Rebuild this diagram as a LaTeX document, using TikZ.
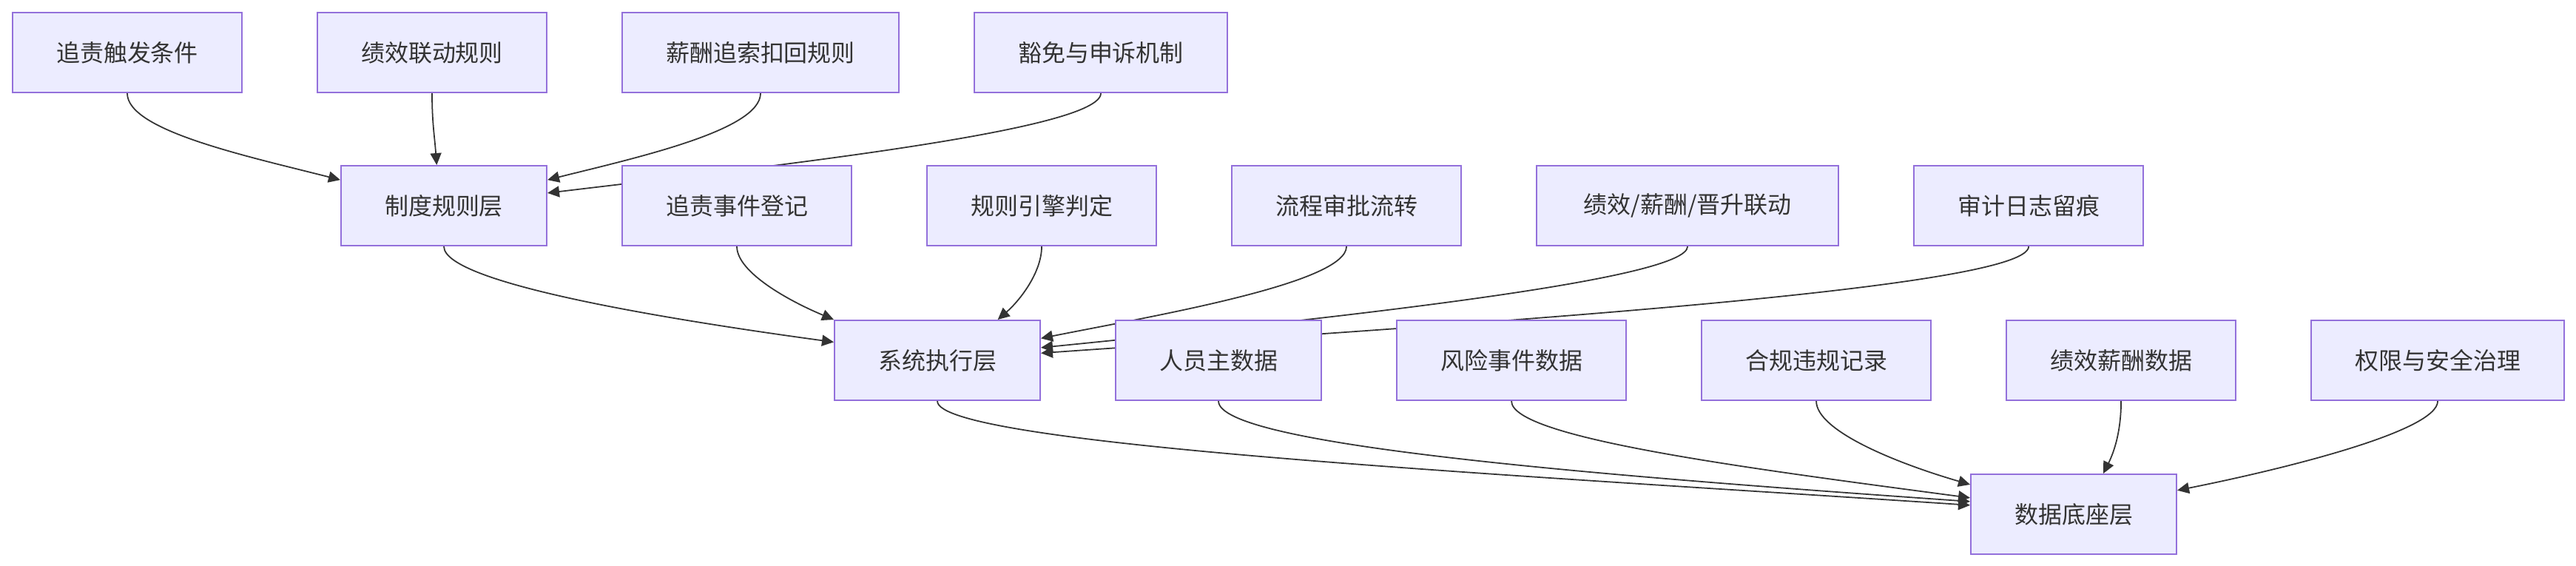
\documentclass[tikz,border=0pt]{standalone}
\usepackage{fontspec}
\setmainfont{Noto Sans CJK SC}
\usetikzlibrary{arrows.meta, positioning, backgrounds}
\definecolor{mmfill}{HTML}{ECECFF}
\definecolor{mmborder}{HTML}{9370DB}
\definecolor{mmtext}{HTML}{333333}
\definecolor{mmline}{HTML}{333333}
\tikzset{
  box/.style={rectangle, draw=mmborder, fill=mmfill, line width=0.6pt, inner xsep=0.59cm, inner ysep=0pt,
    minimum height=1.08cm, font=\fontsize{9.1pt}{11pt}\selectfont, text=mmtext},
  arr/.style={-{Triangle[length=0.16cm, width=0.15cm]}, line width=0.5pt, mmline},
}

\begin{document}
\begin{tikzpicture}
    \useasboundingbox (0,0) rectangle (34.82,-7.64);
    % Rules inputs
    \node[box, anchor=north west] (trigger) at (0.16,-0.16) {追责触发条件};
    \node[box, right=1cm of trigger] (perflink) {绩效联动规则};
    \node[box, right=1cm of perflink] (clawback) {薪酬追索扣回规则};
    \node[box, right=1cm of clawback] (appeal) {豁免与申诉机制};
    % Policy layer + system functions
    \node[box, anchor=north west] (policy) at (4.60,-2.23) {制度规则层};
    \node[box, right=1cm of policy] (register) {追责事件登记};
    \node[box, right=1cm of register] (engine) {规则引擎判定};
    \node[box, right=1cm of engine] (approve) {流程审批流转};
    \node[box, right=1cm of approve, minimum width=4.08cm] (linkage) {绩效/薪酬/晋升联动};
    \node[box, right=1cm of linkage] (audit) {审计日志留痕};
    % System layer + data sources
    \node[box, anchor=north west] (system) at (11.27,-4.32) {系统执行层};
    \node[box, right=1cm of system] (staff) {人员主数据};
    \node[box, right=1cm of staff] (riskdata) {风险事件数据};
    \node[box, right=1cm of riskdata] (compliance) {合规违规记录};
    \node[box, right=1cm of compliance] (paydata) {绩效薪酬数据};
    \node[box, right=1cm of paydata] (access) {权限与安全治理};
    % Data layer
    \node[box, anchor=north west] (datalayer) at (26.63,-6.40) {数据底座层};

    \begin{scope}[on background layer]
    \draw[arr] (trigger.south) .. controls +(0,-0.5) and +(-1.3,0.33) .. (policy.166);
    \draw[arr] (perflink.south) .. controls +(0,-0.4) and +(-0.03,0.4) .. (policy.100);
    \draw[arr] (clawback.south) .. controls +(0,-0.5) and +(1.2,0.3) .. (policy.14);
    \draw[arr] (appeal.south) .. controls +(0,-0.5) and +(3.0,0.36) .. (policy.7);

    \draw[arr] (policy.south) .. controls +(0,-0.5) and +(-2.2,0.3) .. (system.170);
    \draw[arr] (register.south) .. controls +(0,-0.35) and +(-0.6,0.25) .. (system.north west);
    \draw[arr] (engine.south) .. controls +(0,-0.35) and +(0.3,0.26) .. (system.34);
    \draw[arr] (approve.south) .. controls +(0,-0.5) and +(1.5,0.3) .. (system.12);
    \draw[arr] (linkage.south) .. controls +(0,-0.45) and +(4.0,0.4) .. (system.7);
    \draw[arr] (audit.south) .. controls +(0,-0.6) and +(5,0.35) .. (system.4);

    \draw[arr] (system.south) .. controls +(0,-0.6) and +(-6,0.4) .. (datalayer.175);
    \draw[arr] (staff.south) .. controls +(0,-0.6) and +(-5,0.35) .. (datalayer.173);
    \draw[arr] (riskdata.south) .. controls +(0,-0.5) and +(-3,0.4) .. (datalayer.171);
    \draw[arr] (compliance.south) .. controls +(0,-0.4) and +(-1.0,0.29) .. (datalayer.164);
    \draw[arr] (paydata.south) .. controls +(0,-0.4) and +(0.15,0.3) .. (datalayer.54);
    \draw[arr] (access.south) .. controls +(0,-0.4) and +(1.5,0.3) .. (datalayer.13);
    \end{scope}
\end{tikzpicture}
\end{document}
